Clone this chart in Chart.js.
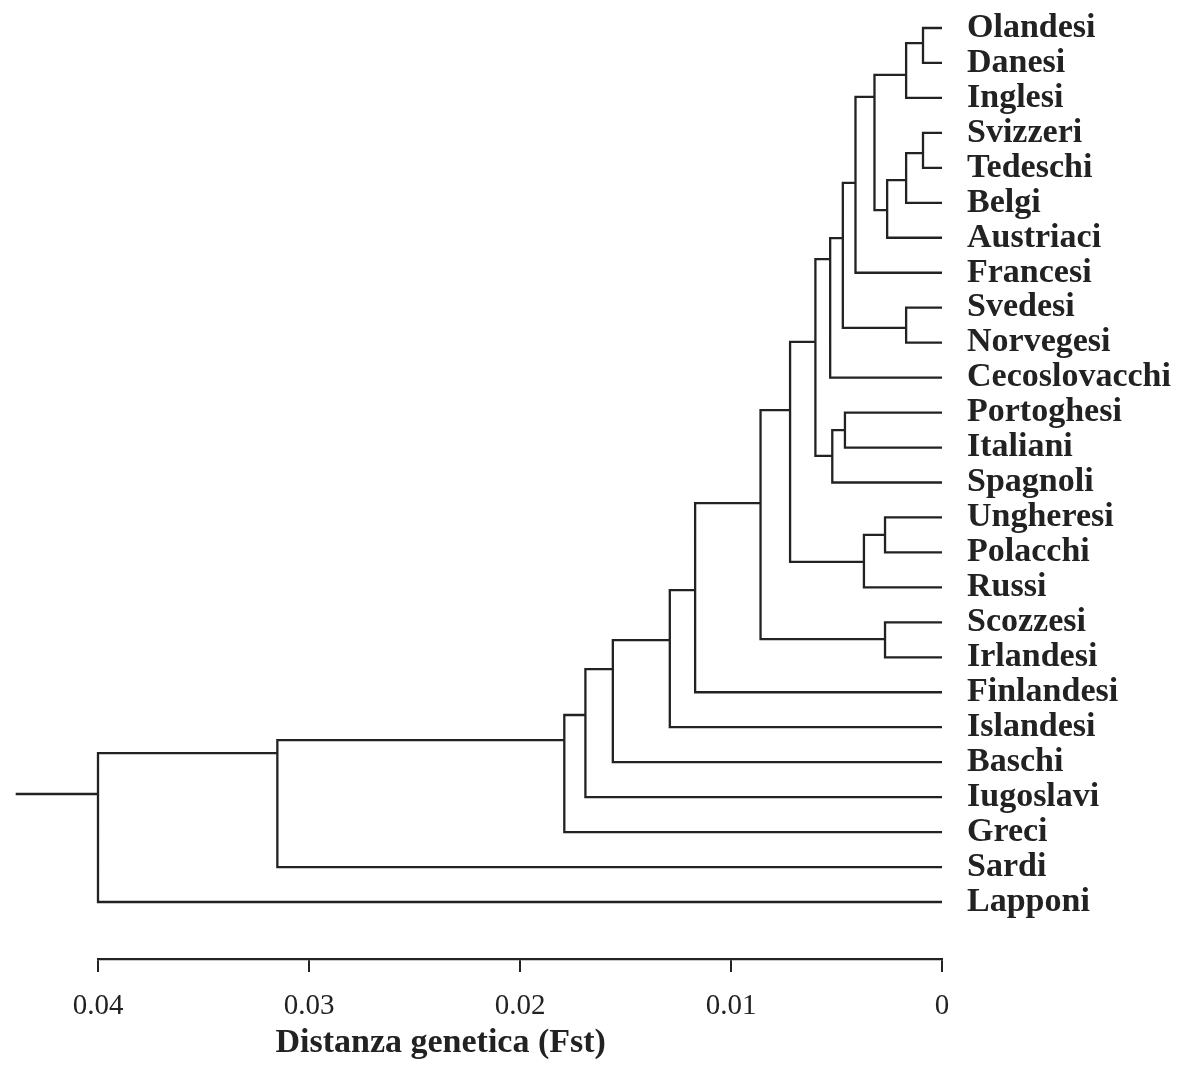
<!DOCTYPE html>
<html>
<head>
<meta charset="utf-8">
<script src="https://cdn.jsdelivr.net/npm/chart.js@4.4.1/dist/chart.umd.min.js"></script>
<style>
  html, body { margin: 0; padding: 0; background: #ffffff; }
  canvas { display: block; }
</style>
</head>
<body>
<canvas id="c" width="1181" height="1066"></canvas>
<script>
// Leaves (top to bottom)
const leaves = ['Olandesi', 'Danesi', 'Inglesi', 'Svizzeri', 'Tedeschi', 'Belgi', 'Austriaci',
  'Francesi', 'Svedesi', 'Norvegesi', 'Cecoslovacchi', 'Portoghesi', 'Italiani', 'Spagnoli',
  'Ungheresi', 'Polacchi', 'Russi', 'Scozzesi', 'Irlandesi', 'Finlandesi', 'Islandesi',
  'Baschi', 'Iugoslavi', 'Greci', 'Sardi', 'Lapponi'];

// Merges: node id = 26 + k joins mergeA[k] and mergeB[k] at distance mergeHeight[k]
const mergeA = [0, 26, 3, 28, 29, 27, 31, 8, 32, 34, 11, 36, 35, 14, 39, 38, 17, 41, 43, 44, 45, 46, 47, 48, 49];
const mergeB = [1, 2, 4, 5, 6, 30, 7, 9, 33, 10, 12, 13, 37, 15, 16, 40, 18, 42, 19, 20, 21, 22, 23, 24, 25];
const mergeHeight = [0.0009, 0.0017, 0.0009, 0.0017, 0.0026, 0.0032, 0.0041, 0.0017, 0.0047, 0.0053,
  0.0046, 0.0052, 0.0060, 0.0027, 0.0037, 0.0072, 0.0027, 0.0086, 0.0117, 0.0129,
  0.0156, 0.0169, 0.0179, 0.0315, 0.0400];
// Vertical position (in leaf-order units) where each merged node connects to its parent
const nodeY = [0.43, 1.34, 3.58, 4.35, 5.21, 1.97, 4.43, 8.58, 6.01, 6.61,
  11.50, 12.24, 8.98, 14.50, 15.27, 10.93, 17.48, 13.59, 16.08, 17.51,
  18.34, 19.65, 20.37, 20.74, 21.91];
const rootStub = 0.0439;

// Axis
const tickValues = [0.04, 0.03, 0.02, 0.01, 0];
const tickLabels = ['0.04', '0.03', '0.02', '0.01', '0'];
const axisTitle = 'Distanza genetica (Fst)';

const nLeaves = leaves.length;
function hOf(id) { return id < nLeaves ? 0 : mergeHeight[id - nLeaves]; }
function yOf(id) { return id < nLeaves ? id : nodeY[id - nLeaves]; }

const pts = [];
for (let k = 0; k < mergeA.length; k++) {
  const a = mergeA[k], b = mergeB[k], h = mergeHeight[k];
  pts.push({x: hOf(a), y: yOf(a)});
  pts.push({x: h, y: yOf(a)});
  pts.push({x: h, y: yOf(b)});
  pts.push({x: hOf(b), y: yOf(b)});
  pts.push({x: null, y: null});
}
const rootId = nLeaves + mergeA.length - 1;
pts.push({x: hOf(rootId), y: yOf(rootId)});
pts.push({x: rootStub, y: yOf(rootId)});

const ink = '#222222';
const serif = '"Liberation Serif", "DejaVu Serif", serif';

const titlePlugin = {
  id: 'axisTitle',
  afterDraw(chart) {
    const {ctx, chartArea} = chart;
    ctx.save();
    ctx.font = 'bold 34px ' + serif;
    ctx.fillStyle = ink;
    ctx.textAlign = 'center';
    ctx.textBaseline = 'middle';
    ctx.fillText(axisTitle, chartArea.left + 0.406 * (chartArea.right - chartArea.left), chart.height - 23);
    ctx.restore();
  }
};

const bgPlugin = {
  id: 'bg',
  beforeDraw(chart) {
    const ctx = chart.ctx;
    ctx.save();
    ctx.fillStyle = '#ffffff';
    ctx.fillRect(0, 0, chart.width, chart.height);
    ctx.restore();
  }
};

new Chart(document.getElementById('c'), {
  type: 'line',
  data: {
    datasets: [{
      data: pts,
      borderColor: ink,
      borderWidth: 2.3,
      pointRadius: 0,
      pointHoverRadius: 0,
      tension: 0,
      spanGaps: false,
      borderJoinStyle: 'miter',
      borderCapStyle: 'butt',
      clip: false
    }]
  },
  options: {
    responsive: false,
    animation: false,
    events: [],
    layout: { padding: { left: 98, right: 0, top: 0, bottom: 0 } },
    plugins: { legend: { display: false }, tooltip: { enabled: false } },
    scales: {
      x: {
        type: 'linear',
        position: 'bottom',
        reverse: true,
        min: 0,
        max: 0.04,
        afterBuildTicks(scale) { scale.ticks = tickValues.map(v => ({value: v})); },
        afterFit(scale) { scale.height = 107; scale.paddingLeft = 0; scale.paddingRight = 0; },
        ticks: {
          callback(value, index) { return tickLabels[index]; },
          font: { family: serif, size: 29 },
          color: ink,
          padding: 17,
          maxRotation: 0,
          autoSkip: false
        },
        grid: {
          drawOnChartArea: false,
          drawTicks: true,
          tickLength: 13,
          color: ink,
          lineWidth: 2
        },
        border: { display: true, color: ink, width: 2.3 }
      },
      y: {
        type: 'linear',
        position: 'right',
        reverse: true,
        min: -0.801,
        max: 26.63,
        afterBuildTicks(scale) { scale.ticks = leaves.map((_, i) => ({value: i})); },
        afterFit(scale) { scale.width = 239; scale.paddingTop = 0; scale.paddingBottom = 0; },
        ticks: {
          callback(value, index) { return leaves[index]; },
          font: { family: serif, size: 34, weight: 'bold' },
          color: ink,
          padding: 25,
          autoSkip: false
        },
        grid: { display: false, drawTicks: false },
        border: { display: false }
      }
    }
  },
  plugins: [bgPlugin, titlePlugin]
});
</script>
</body>
</html>
